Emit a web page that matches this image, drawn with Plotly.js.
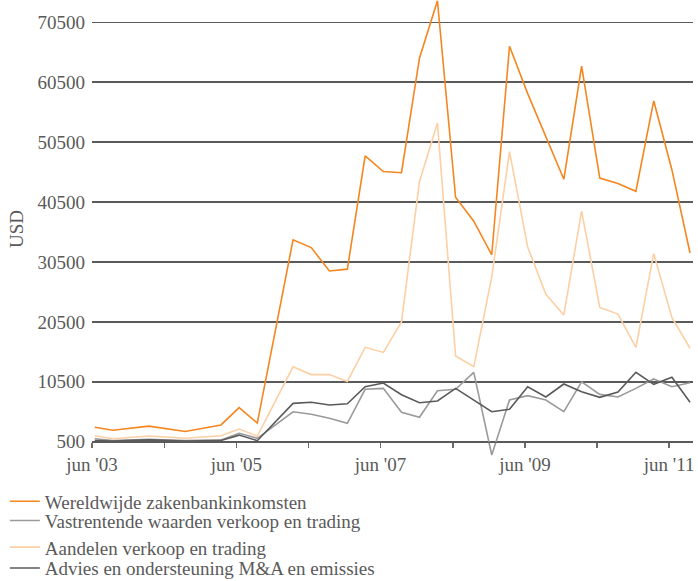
<!DOCTYPE html>
<html>
<head>
<meta charset="utf-8">
<script src="https://cdn.plot.ly/plotly-3.0.1.min.js"></script>
<style>
  html, body { margin: 0; padding: 0; background: #ffffff; }
  #chart { width: 698px; height: 581px; }
</style>
</head>
<body>
<div id="chart"></div>
<script>
// Quarterly observation dates (half-yearly before 2006)
const dates = [
  '2003-06-15', '2003-09-15', '2004-03-15', '2004-09-15', '2005-03-15',
  '2005-06-15', '2005-09-15', '2006-03-15', '2006-06-15', '2006-09-15',
  '2006-12-15', '2007-03-15', '2007-06-15', '2007-09-15', '2007-12-15',
  '2008-03-15', '2008-06-15', '2008-09-15', '2008-12-15', '2009-03-15',
  '2009-06-15', '2009-09-15', '2009-12-15', '2010-03-15', '2010-06-15',
  '2010-09-15', '2010-12-15', '2011-03-15', '2011-06-15', '2011-09-15'
];

// Revenue in USD
const wereldwijd = [
  2900, 2400, 3100, 2200, 3300, 6200, 3600, 34200, 32900, 29000,
  29300, 48200, 45600, 45400, 64500, 74100, 41300, 37300, 31700, 66500,
  58600, 51500, 44300, 63200, 44500, 43600, 42300, 57400, 45900, 32000
];
const vastrentend = [
  1000, 700, 900, 700, 800, 1900, 1070, 5500, 5070, 4400,
  3570, 9250, 9400, 5400, 4570, 9000, 9250, 12080, -1720, 7460,
  8180, 7460, 5510, 10500, 8400, 7960, 9400, 10970, 9680, 10350
];
const aandelen = [
  1500, 1000, 1450, 1070, 1500, 2620, 1450, 13000, 11700, 11700,
  10550, 16250, 15400, 20500, 43900, 53700, 14800, 13000, 28000, 48900,
  33000, 25100, 21650, 39000, 22900, 21800, 16250, 31900, 21250, 16100
];
const advies = [
  700, 600, 800, 600, 700, 1600, 670, 6900, 7080, 6630,
  6840, 9680, 10300, 8340, 7000, 7290, 9400, 7460, 5510, 5900,
  9680, 7960, 10130, 8850, 7900, 8800, 12080, 10080, 11250, 7080
];

const seriesNames = [
  'Wereldwijde zakenbankinkomsten',
  'Vastrentende waarden verkoop en trading',
  'Aandelen verkoop en trading',
  'Advies en ondersteuning M&A en emissies'
];
const seriesColors = ['#f5861f', '#9a9a9a', '#fdcfa4', '#5a5a5a'];

// Axis ticks
const xTickVals = ['2003-06-01', '2004-06-01', '2005-06-01', '2006-06-01', '2007-06-01',
                   '2008-06-01', '2009-06-01', '2010-06-01', '2011-06-01'];
const xTickText = ["jun '03", '', "jun '05", '', "jun '07", '', "jun '09", '', "jun '11"];
const yTickVals = [500, 10500, 20500, 30500, 40500, 50500, 60500, 70500];

const FONT = '"Liberation Serif", "Times New Roman", serif';
const TEXT = '#5a5a5a';

const yRange = [-2221, 74222];

// one legend per series so each row can sit at its own height (container units)
const legendIds = ['legend', 'legend2', 'legend3', 'legend4'];
const legendRowY = [0.137, 0.104, 0.058, 0.022];

const traces = [wereldwijd, vastrentend, aandelen, advies].map((y, i) => ({
  x: dates, y: y, name: seriesNames[i], type: 'scatter', mode: 'lines',
  line: { color: seriesColors[i], width: 1.6 },
  legend: legendIds[i],
  hoverinfo: 'skip'
}));

const layout = {
  width: 698, height: 581,
  margin: { l: 92, r: 5, t: 0, b: 123 },
  paper_bgcolor: '#ffffff', plot_bgcolor: '#ffffff',
  font: { family: FONT, color: TEXT, size: 19 },
  showlegend: true,
  xaxis: {
    type: 'date',
    range: ['2003-06-01', '2011-09-30'],
    tickmode: 'array', tickvals: xTickVals, ticktext: xTickText,
    ticks: 'outside', ticklen: 5, tickwidth: 1.5, tickcolor: '#6a6a6a',
    showgrid: false, zeroline: false,
    showline: true, linecolor: '#5a5a5a', linewidth: 1.5,
    anchor: 'free',
    position: (yTickVals[0] - yRange[0]) / (yRange[1] - yRange[0]),
    tickfont: { family: FONT, size: 19, color: TEXT }
  },
  yaxis: {
    range: yRange,
    tickmode: 'array', tickvals: yTickVals, ticktext: yTickVals.map(String),
    ticks: '', showgrid: true, gridcolor: '#5a5a5a', gridwidth: 1.5,
    zeroline: false, showline: false,
    ticklabelstandoff: 6,
    tickfont: { family: FONT, size: 19, color: TEXT },
    title: { text: 'USD', font: { family: FONT, size: 19, color: TEXT }, standoff: 8 }
  }
};

legendIds.forEach((id, i) => {
  layout[id] = {
    xref: 'paper', yref: 'container',
    x: -0.145, xanchor: 'left', y: legendRowY[i], yanchor: 'middle',
    font: { family: FONT, size: 19, color: TEXT },
    bgcolor: 'rgba(0,0,0,0)', borderwidth: 0,
    tracegroupgap: 0
  };
});

Plotly.newPlot('chart', traces, layout, { staticPlot: true, displayModeBar: false });
</script>
</body>
</html>
